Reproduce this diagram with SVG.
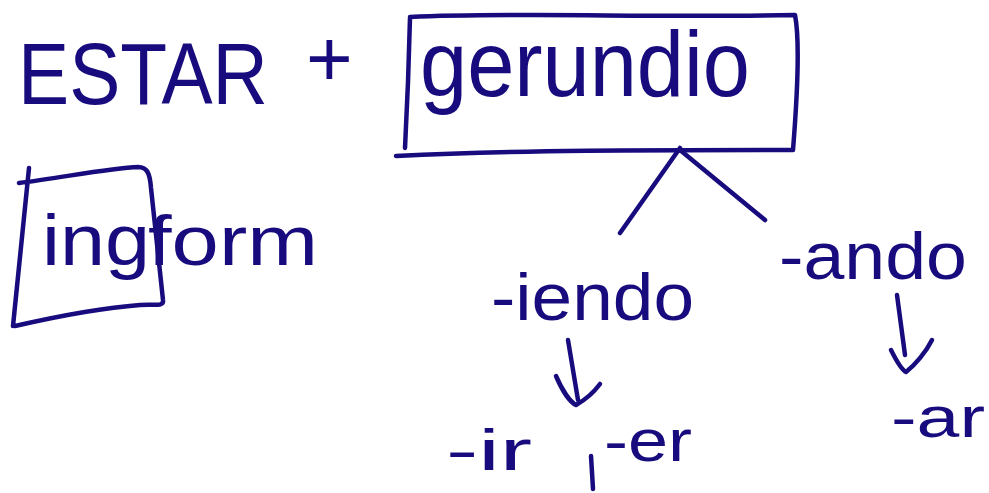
<svg xmlns="http://www.w3.org/2000/svg" width="989" height="493" viewBox="0 0 989 493">
<style>
.t{font-family:"Liberation Sans","DejaVu Sans",sans-serif;fill:#170b7d}
.s{fill:none;stroke:#170b7d;stroke-width:4.5;stroke-linecap:round;stroke-linejoin:round}
</style>
<rect width="989" height="493" fill="#fff"/>
<g id="estar"><text class="t" x="18" y="104" font-size="88" textLength="250" lengthAdjust="spacingAndGlyphs">ESTAR</text></g>
<g id="plus"><text class="t" x="306" y="86" font-size="80">+</text></g>
<g id="gerundio">
<path class="s" d="M410,18 C409,60 407,110 405,148 M410,17 C520,12 650,18 795,15 C800,40 797,100 793,150 M396,156 C520,150 650,150 792,150"/>
<text class="t" x="420" y="96" font-size="92" textLength="330" lengthAdjust="spacingAndGlyphs">gerundio</text>
</g>
<g id="ingform">
<path class="s" d="M29,168 L13,326 M19,183 C60,178 110,168 138,167 C148,167 150,175 151,188 L163,300 C164,307 155,304 140,305 C100,308 50,318 15,326"/>
<text class="t" x="42" y="265" font-size="72" textLength="108" lengthAdjust="spacingAndGlyphs">ing</text>
<text class="t" x="148" y="265" font-size="70" textLength="170" lengthAdjust="spacingAndGlyphs">form</text>
</g>
<g id="iendo"><text class="t" x="491" y="320" font-size="66" textLength="203" lengthAdjust="spacingAndGlyphs">-iendo</text></g>
<g id="ando"><text class="t" x="779" y="279" font-size="66" textLength="188" lengthAdjust="spacingAndGlyphs">-ando</text></g>
<g id="ir"><text class="t" x="446" y="470" font-size="58" textLength="86" lengthAdjust="spacingAndGlyphs">-ir</text></g>
<g id="comma"><path class="s" d="M591,456 L593,489"/></g>
<g id="er"><text class="t" x="604" y="461" font-size="60" textLength="88" lengthAdjust="spacingAndGlyphs">-er</text></g>
<g id="ar"><text class="t" x="891" y="437" font-size="58" textLength="94" lengthAdjust="spacingAndGlyphs">-ar</text></g>
<g id="connectors">
<path class="s" d="M620,233 L680,148 M680,150 L765,220"/>
<path class="s" d="M568,340 L578,400 M556,376 C562,390 570,402 576,405 C585,400 594,392 600,384"/>
<path class="s" d="M897,295 L905,355 M891,350 C896,360 902,370 906,372 C915,365 926,352 932,340"/>
</g>
</svg>
